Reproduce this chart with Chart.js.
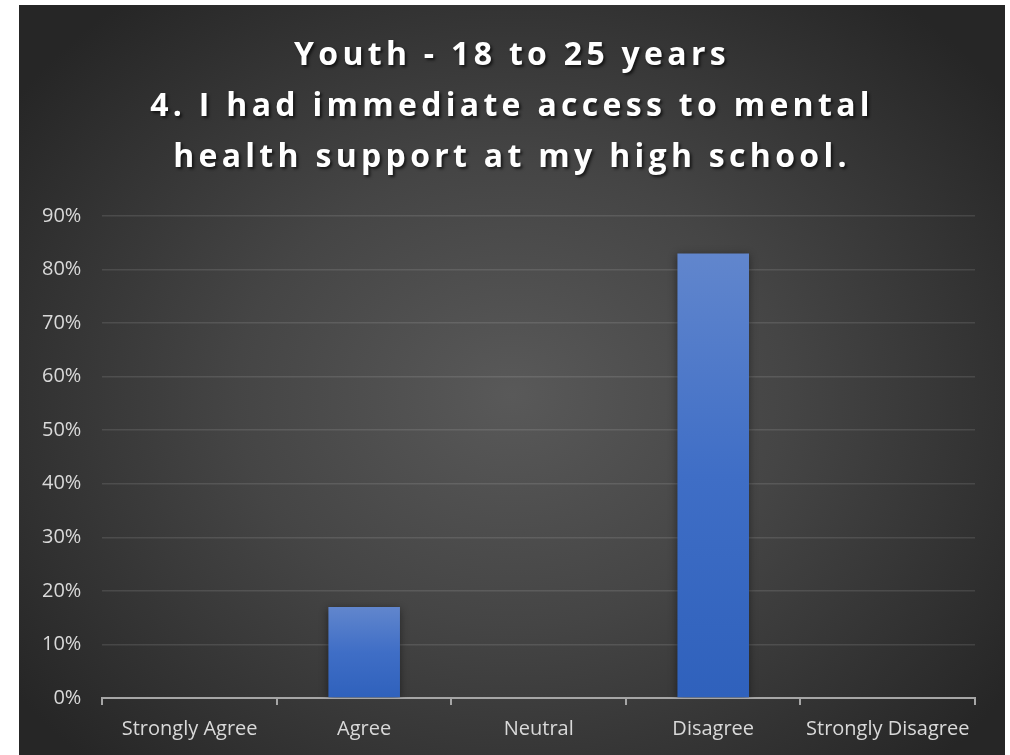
<!DOCTYPE html>
<html>
<head>
<meta charset="utf-8">
<script src="https://cdn.jsdelivr.net/npm/chart.js@4"></script>
<style>
  html, body { margin: 0; padding: 0; background: #ffffff; }
  #painel {
    position: absolute; left: 19px; top: 5px; width: 986px; height: 750px;
    background: radial-gradient(ellipse 62% 68% at 50% 52%, #595959 0%, #454545 45%, #262626 100%);
    overflow: hidden;
  }
  #titulo {
    position: absolute; left: 0; top: 22px; width: 100%;
    text-align: center; color: #ffffff;
    font-family: "Open Sans", sans-serif; font-weight: 700; font-size: 32px;
    line-height: 51px; letter-spacing: 4.3px;
    text-shadow: 2px 2px 3px rgba(0,0,0,0.65);
  }
  #grafico { position: absolute; left: 0; top: 0; }
</style>
</head>
<body>
<div id="painel">
  <canvas id="grafico" width="986" height="750"></canvas>
  <div id="titulo">Youth - 18 to 25 years<br>4. I had immediate access to mental<br>health support at my high school.</div>
</div>
<script>
const categorias = ['Strongly Agree', 'Agree', 'Neutral', 'Disagree', 'Strongly Disagree'];
const percentuais = [0, 17, 0, 83, 0];
const marcasY = [0, 10, 20, 30, 40, 50, 60, 70, 80, 90];

// gradiente vertical por barra, do topo da barra até a base
function corBarra(context) {
  const chart = context.chart;
  const area = chart.chartArea;
  if (!area || !chart.scales.y) return '#4472c4';
  const valor = context.raw || 0;
  const topo = chart.scales.y.getPixelForValue(valor);
  const base = chart.scales.y.getPixelForValue(0);
  if (base - topo < 1) return '#4472c4';
  const g = chart.ctx.createLinearGradient(0, topo, 0, base);
  g.addColorStop(0, '#6186cd');
  g.addColorStop(0.5, '#3f6ec6');
  g.addColorStop(1, '#2f61bc');
  return g;
}

// sombra leve atrás das barras
const sombraBarras = {
  id: 'sombraBarras',
  beforeDatasetsDraw(chart) {
    const ctx = chart.ctx;
    ctx.save();
    ctx.shadowColor = 'rgba(0,0,0,0.45)';
    ctx.shadowBlur = 8;
    ctx.shadowOffsetX = 0;
    ctx.shadowOffsetY = 2;
  },
  afterDatasetsDraw(chart) {
    chart.ctx.restore();
  }
};

const fonteEixo = { family: '"Open Sans", sans-serif', size: 20 };

new Chart(document.getElementById('grafico').getContext('2d'), {
  type: 'bar',
  data: {
    labels: categorias,
    datasets: [{
      data: percentuais,
      backgroundColor: corBarra,
      borderWidth: 0,
      categoryPercentage: 1.0,
      barPercentage: 0.41
    }]
  },
  plugins: [sombraBarras],
  options: {
    responsive: false,
    animation: false,
    layout: { padding: { left: 2, right: 30, top: 211, bottom: 2 } },
    plugins: {
      legend: { display: false },
      tooltip: { enabled: false }
    },
    scales: {
      x: {
        grid: {
          offset: true,
          drawOnChartArea: false,
          drawTicks: true,
          tickLength: 7,
          color: '#a6a6a6',
          lineWidth: 2
        },
        border: { display: true, color: '#a6a6a6', width: 2 },
        ticks: { color: '#d9d9d9', font: fonteEixo, padding: 12, maxRotation: 0 }
      },
      y: {
        min: 0,
        max: 90,
        afterBuildTicks(axis) {
          axis.ticks = marcasY.map(v => ({ value: v }));
        },
        grid: { color: 'rgba(255,255,255,0.11)', lineWidth: 1.5, drawTicks: false },
        border: { display: false },
        ticks: {
          color: '#d9d9d9',
          font: fonteEixo,
          padding: 21,
          callback: v => v + '%'
        }
      }
    }
  }
});
</script>
</body>
</html>
